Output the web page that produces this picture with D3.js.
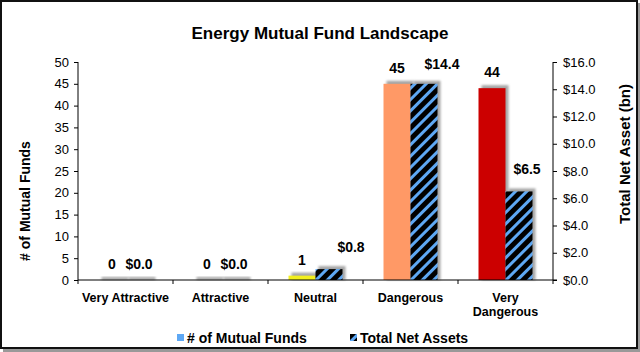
<!DOCTYPE html>
<meta charset="utf-8">
<title>Energy Mutual Fund Landscape</title>
<body>
<script src="https://cdn.jsdelivr.net/npm/d3@7"></script>
<style>
html, body {
    margin: 0;
    background: #fff;
}
svg text {
    font-family: "Liberation Sans", Arial, sans-serif;
}
</style>
<script>
var categories = ["Very Attractive", "Attractive", "Neutral", "Dangerous", "Very Dangerous"],
    fundCounts = [0, 0, 1, 45, 44],
    netAssets  = [0.0, 0.0, 0.8, 14.4, 6.5],
    countTicks = [0, 5, 10, 15, 20, 25, 30, 35, 40, 45, 50],
    assetTicks = [0, 2, 4, 6, 8, 10, 12, 14, 16],
    ratingColors = ["#00804b", "#66cc66", "#f2ef1e", "#ff9966", "#cc0000"];

// hand-placed label nudges, as in the source chart
var assetLabelDx = [0, 0, 22, 18, 8],
    assetLabelDy = [0, 0, -6, -4, -6];

var width = 640,
    height = 352,
    plotLeft = 78,
    plotRight = 553,
    plotTop = 62,
    plotBottom = 280;

var svg = d3.select("body").append("svg")
    .attr("width", width)
    .attr("height", height);

var defs = svg.append("defs");

var pat = defs.append("pattern")
    .attr("id", "stripes")
    .attr("patternUnits", "userSpaceOnUse")
    .attr("width", 8)
    .attr("height", 8)
    .attr("patternTransform", "rotate(45)");
pat.append("rect").attr("width", 8).attr("height", 8).attr("fill", "#000");
pat.append("rect").attr("width", 3).attr("height", 8).attr("fill", "#5ea8f4");

defs.append("filter")
    .attr("id", "blur")
    .append("feGaussianBlur")
    .attr("stdDeviation", 1);

// frame
svg.append("rect")
    .attr("x", 3).attr("y", 3)
    .attr("width", 637).attr("height", 349)
    .attr("fill", "#999");
svg.append("rect")
    .attr("x", 1).attr("y", 1)
    .attr("width", 636).attr("height", 347)
    .attr("fill", "#fff")
    .attr("stroke", "#111")
    .attr("stroke-width", 2);

svg.append("text")
    .attr("x", 320)
    .attr("y", 39)
    .attr("text-anchor", "middle")
    .style("font-size", "17px")
    .style("font-weight", "bold")
    .text("Energy Mutual Fund Landscape");

var x0 = d3.scaleBand()
    .domain(categories)
    .range([plotLeft, plotRight]);

var x1 = d3.scaleBand()
    .domain(["count", "assets"])
    .range([0, 54]);

var yL = d3.scaleLinear().domain([0, 50]).range([plotBottom, plotTop]);
var yR = d3.scaleLinear().domain([0, 16]).range([plotBottom, plotTop]);

var rows = categories.map(function(c, i) {
    return {cat: c, i: i, count: fundCounts[i], assets: netAssets[i]};
});

var groups = svg.selectAll("g.cat")
    .data(rows)
    .enter().append("g")
    .attr("class", "cat")
    .attr("transform", function(d) {
        return "translate(" + (x0(d.cat) + (x0.bandwidth() - 54) / 2) + ",0)";
    });

function barY(d, s) { return s === "count" ? yL(d.count) : yR(d.assets); }

["count", "assets"].forEach(function(s) {
    // shadows
    groups.append("rect")
        .attr("x", x1(s) + 3)
        .attr("y", function(d) { return barY(d, s) - 3; })
        .attr("width", x1.bandwidth())
        .attr("height", function(d) { return plotBottom - barY(d, s) + 3; })
        .attr("fill", "#a6a6a6")
        .attr("filter", "url(#blur)");
});

["count", "assets"].forEach(function(s) {
    groups.append("rect")
        .attr("x", x1(s))
        .attr("y", function(d) { return barY(d, s); })
        .attr("width", x1.bandwidth())
        .attr("height", function(d) { return plotBottom - barY(d, s); })
        .attr("fill", function(d) { return s === "count" ? ratingColors[d.i] : "url(#stripes)"; });

    groups.append("text")
        .attr("x", function(d) {
            return x1(s) + x1.bandwidth() / 2 + (s === "assets" ? assetLabelDx[d.i] : 0);
        })
        .attr("y", function(d) {
            return barY(d, s) - 11 + (s === "assets" ? assetLabelDy[d.i] : 0);
        })
        .attr("text-anchor", "middle")
        .style("font-size", "14px")
        .style("font-weight", "bold")
        .text(function(d) { return s === "count" ? d.count : "$" + d.assets.toFixed(1); });
});

// axes
var axL = svg.append("g")
    .attr("transform", "translate(" + plotLeft + ",0)")
    .call(d3.axisLeft(yL).tickValues(countTicks).tickSize(4).tickPadding(5));

var axR = svg.append("g")
    .attr("transform", "translate(" + plotRight + ",0)")
    .call(d3.axisRight(yR).tickValues(assetTicks).tickSize(4).tickPadding(6)
        .tickFormat(function(d) { return "$" + d3.format(".1f")(d); }));

[axL, axR].forEach(function(a) {
    a.select(".domain").attr("stroke", "#000")
        .attr("d", "M0," + plotTop + "V" + plotBottom);
    a.selectAll("text").style("font-size", "13px").attr("fill", "#000")
        .style("font-family", "'Liberation Sans', Arial, sans-serif");
});

var bounds = categories.map(function(c) { return x0(c); }).concat([plotRight]);

var axB = svg.append("g");
axB.append("line")
    .attr("x1", plotLeft).attr("x2", plotRight + 4)
    .attr("y1", plotBottom).attr("y2", plotBottom)
    .attr("stroke", "#000");
axB.selectAll("line.tick")
    .data(bounds)
    .enter().append("line")
    .attr("class", "tick")
    .attr("x1", function(d) { return d; }).attr("x2", function(d) { return d; })
    .attr("y1", plotBottom).attr("y2", plotBottom + 4)
    .attr("stroke", "#000");

axB.selectAll("text.cat")
    .data(categories)
    .enter().append("text")
    .attr("class", "cat")
    .attr("y", 302)
    .attr("text-anchor", "middle")
    .style("font-size", "12.5px")
    .style("font-weight", "bold")
    .each(function(d) {
        var words = d === "Very Dangerous" ? ["Very", "Dangerous"] : [d];
        var t = d3.select(this);
        words.forEach(function(w, k) {
            t.append("tspan")
                .attr("x", x0(d) + x0.bandwidth() / 2)
                .attr("dy", k ? 14 : 0)
                .text(w);
        });
    });

svg.append("text")
    .attr("transform", "translate(30,201) rotate(-90)")
    .attr("text-anchor", "middle")
    .style("font-size", "14px")
    .style("font-weight", "bold")
    .text("# of Mutual Funds");

svg.append("text")
    .attr("transform", "translate(630,154) rotate(-90)")
    .attr("text-anchor", "middle")
    .style("font-size", "15px")
    .style("font-weight", "bold")
    .text("Total Net Asset (bn)");

// legend
var legend = svg.append("g");
legend.append("rect")
    .attr("x", 177).attr("y", 334)
    .attr("width", 7).attr("height", 7)
    .attr("fill", "#5ea8f4");
legend.append("text")
    .attr("x", 187).attr("y", 343)
    .style("font-size", "14px")
    .style("font-weight", "bold")
    .text("# of Mutual Funds");
legend.append("rect")
    .attr("x", 350).attr("y", 334)
    .attr("width", 7).attr("height", 7)
    .attr("fill", "url(#stripes)");
legend.append("text")
    .attr("x", 360).attr("y", 343)
    .style("font-size", "14px")
    .style("font-weight", "bold")
    .text("Total Net Assets");
</script>
